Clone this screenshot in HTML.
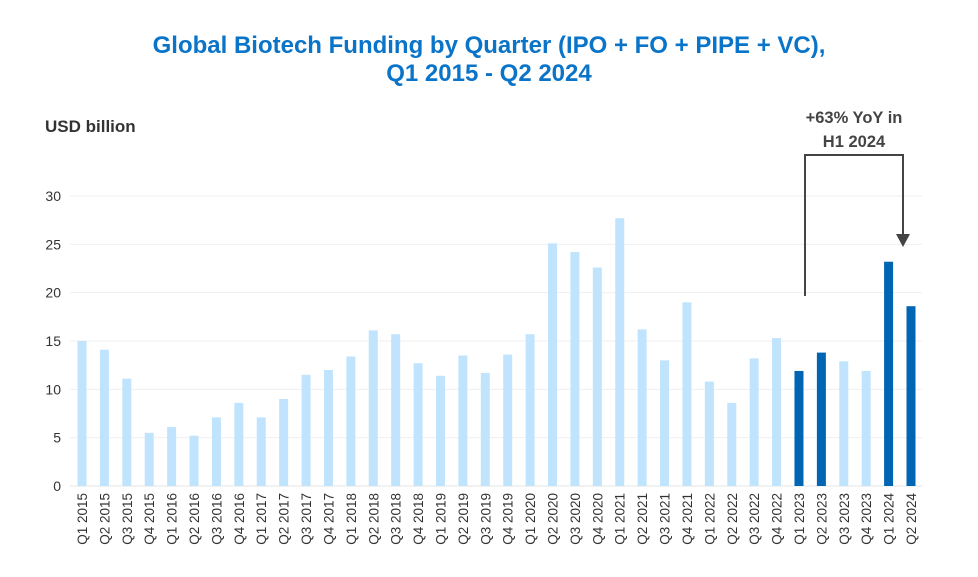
<!DOCTYPE html>
<html><head><meta charset="utf-8"><style>
body{margin:0;background:#fff;font-family:"Liberation Sans",Arial,sans-serif}
svg{display:block}
</style></head><body>
<svg id="chart" width="978" height="577">
<text x="489" y="53" text-anchor="middle" font-size="24" font-weight="bold" fill="#0a74c9">Global Biotech Funding by Quarter (IPO + FO + PIPE + VC),</text>
<text x="489" y="81" text-anchor="middle" font-size="24" font-weight="bold" fill="#0a74c9">Q1 2015 - Q2 2024</text>
<text x="45" y="132" font-size="17" font-weight="bold" fill="#333">USD billion</text>
<g id="grid"></g><g id="bars"></g><g id="xlabels"></g>
<g>
<polyline points="805,296 805,155 903,155 903,238" fill="none" stroke="#444" stroke-width="2"/>
<polygon points="896,234 910,234 903,247" fill="#444"/>
<text x="854" y="123" text-anchor="middle" font-size="16.5" font-weight="bold" fill="#444">+63% YoY in</text>
<text x="854" y="147" text-anchor="middle" font-size="16.5" font-weight="bold" fill="#444">H1 2024</text>
</g>
</svg>
<script>
const categories=["Q1 2015","Q2 2015","Q3 2015","Q4 2015","Q1 2016","Q2 2016","Q3 2016","Q4 2016","Q1 2017","Q2 2017","Q3 2017","Q4 2017","Q1 2018","Q2 2018","Q3 2018","Q4 2018","Q1 2019","Q2 2019","Q3 2019","Q4 2019","Q1 2020","Q2 2020","Q3 2020","Q4 2020","Q1 2021","Q2 2021","Q3 2021","Q4 2021","Q1 2022","Q2 2022","Q3 2022","Q4 2022","Q1 2023","Q2 2023","Q3 2023","Q4 2023","Q1 2024","Q2 2024"];
const values=[15.0,14.1,11.1,5.5,6.1,5.2,7.1,8.6,7.1,9.0,11.5,12.0,13.4,16.1,15.7,12.7,11.4,13.5,11.7,13.6,15.7,25.1,24.2,22.6,27.7,16.2,13.0,19.0,10.8,8.6,13.2,15.3,11.9,13.8,12.9,11.9,23.2,18.6];
const highlighted=["Q1 2023","Q2 2023","Q1 2024","Q2 2024"];
const yTicks=[0,5,10,15,20,25,30];
const NS="http://www.w3.org/2000/svg";
const y0=486,yTop=196,yMax=30,x0=82,step=(911-82)/37,bw=9;
const yS=v=>y0-(v/yMax)*(y0-yTop);
const xS=i=>x0+i*step;
const grid=document.getElementById('grid'),bars=document.getElementById('bars'),xl=document.getElementById('xlabels');
yTicks.forEach(t=>{
 const l=document.createElementNS(NS,'line');
 l.setAttribute('x1',70);l.setAttribute('x2',922);l.setAttribute('y1',yS(t));l.setAttribute('y2',yS(t));
 l.setAttribute('stroke',t===0?'#e4e4e4':'#efefef');l.setAttribute('stroke-width',1);
 
 
 grid.appendChild(l);
 const tx=document.createElementNS(NS,'text');
 tx.setAttribute('x',61);tx.setAttribute('y',yS(t)+5);tx.setAttribute('text-anchor','end');
 tx.setAttribute('font-size',14);tx.setAttribute('fill','#333');tx.textContent=t;
 
 
 grid.appendChild(tx);
});
categories.forEach((c,i)=>{
 const r=document.createElementNS(NS,'rect');
 r.setAttribute('x',xS(i)-bw/2);r.setAttribute('y',yS(values[i]));
 r.setAttribute('width',bw);r.setAttribute('height',y0-yS(values[i]));
 r.setAttribute('fill',highlighted.includes(c)?'#0066b3':'#c0e4fd');
 
 
 bars.appendChild(r);
 const t=document.createElementNS(NS,'text');
 const x=xS(i)+5;
 t.setAttribute('transform','translate('+x+',493) rotate(-90)');
 t.setAttribute('text-anchor','end');t.setAttribute('font-size',13.5);t.setAttribute('fill','#333');
 t.textContent=c;
 
 
 xl.appendChild(t);
});
</script>
</body></html>
